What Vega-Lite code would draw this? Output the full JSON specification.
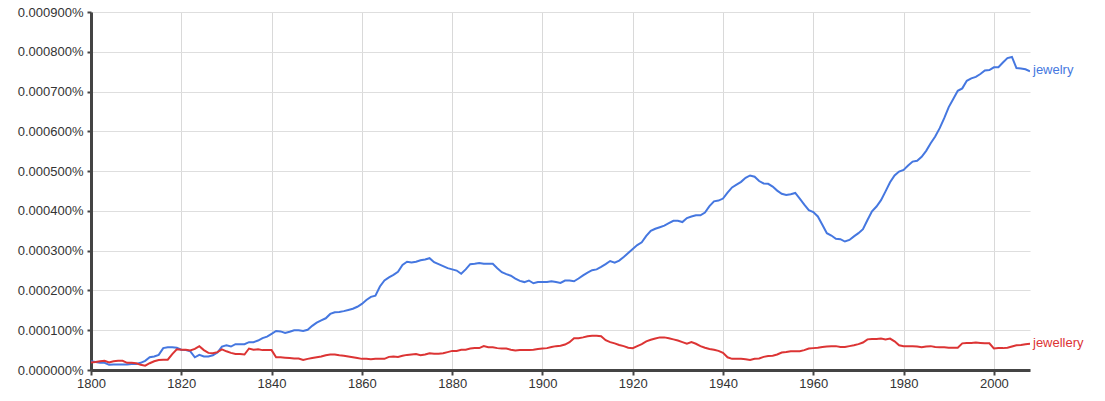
{
  "$schema": "https://vega.github.io/schema/vega-lite/v6.json",
  "width": 939,
  "height": 358,
  "autosize": {"type": "none"},
  "padding": {"left": 91, "top": 12, "right": 75, "bottom": 31},
  "background": "white",
  "config": {
    "view": {"stroke": null},
    "font": "Liberation Sans"
  },
  "data": {
    "values": [
      {"year":1800,"jewelry":0.000022,"jewellery":0.000019},
      {"year":1801,"jewelry":0.000020,"jewellery":0.000020},
      {"year":1802,"jewelry":0.000018,"jewellery":0.000022},
      {"year":1803,"jewelry":0.000018,"jewellery":0.000023},
      {"year":1804,"jewelry":0.000013,"jewellery":0.000019},
      {"year":1805,"jewelry":0.000014,"jewellery":0.000022},
      {"year":1806,"jewelry":0.000014,"jewellery":0.000023},
      {"year":1807,"jewelry":0.000014,"jewellery":0.000023},
      {"year":1808,"jewelry":0.000014,"jewellery":0.000018},
      {"year":1809,"jewelry":0.000015,"jewellery":0.000018},
      {"year":1810,"jewelry":0.000015,"jewellery":0.000017},
      {"year":1811,"jewelry":0.000018,"jewellery":0.000013},
      {"year":1812,"jewelry":0.000023,"jewellery":0.000011},
      {"year":1813,"jewelry":0.000032,"jewellery":0.000017},
      {"year":1814,"jewelry":0.000034,"jewellery":0.000022},
      {"year":1815,"jewelry":0.000038,"jewellery":0.000025},
      {"year":1816,"jewelry":0.000055,"jewellery":0.000026},
      {"year":1817,"jewelry":0.000057,"jewellery":0.000026},
      {"year":1818,"jewelry":0.000057,"jewellery":0.000040},
      {"year":1819,"jewelry":0.000056,"jewellery":0.000052},
      {"year":1820,"jewelry":0.000051,"jewellery":0.000051},
      {"year":1821,"jewelry":0.000050,"jewellery":0.000051},
      {"year":1822,"jewelry":0.000047,"jewellery":0.000049},
      {"year":1823,"jewelry":0.000032,"jewellery":0.000053},
      {"year":1824,"jewelry":0.000038,"jewellery":0.000060},
      {"year":1825,"jewelry":0.000034,"jewellery":0.000050},
      {"year":1826,"jewelry":0.000034,"jewellery":0.000043},
      {"year":1827,"jewelry":0.000037,"jewellery":0.000042},
      {"year":1828,"jewelry":0.000044,"jewellery":0.000045},
      {"year":1829,"jewelry":0.000059,"jewellery":0.000052},
      {"year":1830,"jewelry":0.000062,"jewellery":0.000047},
      {"year":1831,"jewelry":0.000059,"jewellery":0.000043},
      {"year":1832,"jewelry":0.000065,"jewellery":0.000040},
      {"year":1833,"jewelry":0.000065,"jewellery":0.000040},
      {"year":1834,"jewelry":0.000065,"jewellery":0.000039},
      {"year":1835,"jewelry":0.000070,"jewellery":0.000054},
      {"year":1836,"jewelry":0.000070,"jewellery":0.000051},
      {"year":1837,"jewelry":0.000074,"jewellery":0.000052},
      {"year":1838,"jewelry":0.000080,"jewellery":0.000050},
      {"year":1839,"jewelry":0.000084,"jewellery":0.000050},
      {"year":1840,"jewelry":0.000091,"jewellery":0.000050},
      {"year":1841,"jewelry":0.000098,"jewellery":0.000032},
      {"year":1842,"jewelry":0.000097,"jewellery":0.000032},
      {"year":1843,"jewelry":0.000093,"jewellery":0.000031},
      {"year":1844,"jewelry":0.000096,"jewellery":0.000030},
      {"year":1845,"jewelry":0.000100,"jewellery":0.000029},
      {"year":1846,"jewelry":0.000100,"jewellery":0.000029},
      {"year":1847,"jewelry":0.000098,"jewellery":0.000025},
      {"year":1848,"jewelry":0.000101,"jewellery":0.000028},
      {"year":1849,"jewelry":0.000111,"jewellery":0.000030},
      {"year":1850,"jewelry":0.000119,"jewellery":0.000032},
      {"year":1851,"jewelry":0.000125,"jewellery":0.000034},
      {"year":1852,"jewelry":0.000130,"jewellery":0.000037},
      {"year":1853,"jewelry":0.000141,"jewellery":0.000039},
      {"year":1854,"jewelry":0.000145,"jewellery":0.000039},
      {"year":1855,"jewelry":0.000146,"jewellery":0.000037},
      {"year":1856,"jewelry":0.000148,"jewellery":0.000036},
      {"year":1857,"jewelry":0.000151,"jewellery":0.000034},
      {"year":1858,"jewelry":0.000154,"jewellery":0.000032},
      {"year":1859,"jewelry":0.000159,"jewellery":0.000030},
      {"year":1860,"jewelry":0.000166,"jewellery":0.000028},
      {"year":1861,"jewelry":0.000176,"jewellery":0.000028},
      {"year":1862,"jewelry":0.000184,"jewellery":0.000027},
      {"year":1863,"jewelry":0.000187,"jewellery":0.000028},
      {"year":1864,"jewelry":0.000210,"jewellery":0.000028},
      {"year":1865,"jewelry":0.000225,"jewellery":0.000028},
      {"year":1866,"jewelry":0.000233,"jewellery":0.000033},
      {"year":1867,"jewelry":0.000239,"jewellery":0.000034},
      {"year":1868,"jewelry":0.000247,"jewellery":0.000033},
      {"year":1869,"jewelry":0.000264,"jewellery":0.000036},
      {"year":1870,"jewelry":0.000272,"jewellery":0.000038},
      {"year":1871,"jewelry":0.000270,"jewellery":0.000039},
      {"year":1872,"jewelry":0.000272,"jewellery":0.000040},
      {"year":1873,"jewelry":0.000276,"jewellery":0.000037},
      {"year":1874,"jewelry":0.000278,"jewellery":0.000039},
      {"year":1875,"jewelry":0.000281,"jewellery":0.000042},
      {"year":1876,"jewelry":0.000271,"jewellery":0.000041},
      {"year":1877,"jewelry":0.000266,"jewellery":0.000041},
      {"year":1878,"jewelry":0.000261,"jewellery":0.000042},
      {"year":1879,"jewelry":0.000256,"jewellery":0.000045},
      {"year":1880,"jewelry":0.000253,"jewellery":0.000048},
      {"year":1881,"jewelry":0.000250,"jewellery":0.000048},
      {"year":1882,"jewelry":0.000242,"jewellery":0.000051},
      {"year":1883,"jewelry":0.000253,"jewellery":0.000051},
      {"year":1884,"jewelry":0.000266,"jewellery":0.000054},
      {"year":1885,"jewelry":0.000267,"jewellery":0.000055},
      {"year":1886,"jewelry":0.000269,"jewellery":0.000055},
      {"year":1887,"jewelry":0.000267,"jewellery":0.000060},
      {"year":1888,"jewelry":0.000267,"jewellery":0.000057},
      {"year":1889,"jewelry":0.000267,"jewellery":0.000057},
      {"year":1890,"jewelry":0.000256,"jewellery":0.000055},
      {"year":1891,"jewelry":0.000246,"jewellery":0.000054},
      {"year":1892,"jewelry":0.000241,"jewellery":0.000054},
      {"year":1893,"jewelry":0.000237,"jewellery":0.000051},
      {"year":1894,"jewelry":0.000230,"jewellery":0.000049},
      {"year":1895,"jewelry":0.000224,"jewellery":0.000050},
      {"year":1896,"jewelry":0.000221,"jewellery":0.000050},
      {"year":1897,"jewelry":0.000225,"jewellery":0.000050},
      {"year":1898,"jewelry":0.000218,"jewellery":0.000051},
      {"year":1899,"jewelry":0.000221,"jewellery":0.000053},
      {"year":1900,"jewelry":0.000221,"jewellery":0.000054},
      {"year":1901,"jewelry":0.000221,"jewellery":0.000055},
      {"year":1902,"jewelry":0.000223,"jewellery":0.000058},
      {"year":1903,"jewelry":0.000221,"jewellery":0.000060},
      {"year":1904,"jewelry":0.000219,"jewellery":0.000061},
      {"year":1905,"jewelry":0.000225,"jewellery":0.000064},
      {"year":1906,"jewelry":0.000225,"jewellery":0.000070},
      {"year":1907,"jewelry":0.000223,"jewellery":0.000080},
      {"year":1908,"jewelry":0.000230,"jewellery":0.000080},
      {"year":1909,"jewelry":0.000238,"jewellery":0.000082},
      {"year":1910,"jewelry":0.000245,"jewellery":0.000085},
      {"year":1911,"jewelry":0.000251,"jewellery":0.000086},
      {"year":1912,"jewelry":0.000253,"jewellery":0.000086},
      {"year":1913,"jewelry":0.000259,"jewellery":0.000085},
      {"year":1914,"jewelry":0.000266,"jewellery":0.000075},
      {"year":1915,"jewelry":0.000274,"jewellery":0.000070},
      {"year":1916,"jewelry":0.000270,"jewellery":0.000067},
      {"year":1917,"jewelry":0.000275,"jewellery":0.000063},
      {"year":1918,"jewelry":0.000284,"jewellery":0.000060},
      {"year":1919,"jewelry":0.000294,"jewellery":0.000056},
      {"year":1920,"jewelry":0.000304,"jewellery":0.000055},
      {"year":1921,"jewelry":0.000314,"jewellery":0.000060},
      {"year":1922,"jewelry":0.000321,"jewellery":0.000065},
      {"year":1923,"jewelry":0.000337,"jewellery":0.000072},
      {"year":1924,"jewelry":0.000350,"jewellery":0.000076},
      {"year":1925,"jewelry":0.000355,"jewellery":0.000079},
      {"year":1926,"jewelry":0.000359,"jewellery":0.000082},
      {"year":1927,"jewelry":0.000363,"jewellery":0.000082},
      {"year":1928,"jewelry":0.000369,"jewellery":0.000080},
      {"year":1929,"jewelry":0.000375,"jewellery":0.000077},
      {"year":1930,"jewelry":0.000375,"jewellery":0.000074},
      {"year":1931,"jewelry":0.000372,"jewellery":0.000070},
      {"year":1932,"jewelry":0.000382,"jewellery":0.000066},
      {"year":1933,"jewelry":0.000386,"jewellery":0.000070},
      {"year":1934,"jewelry":0.000389,"jewellery":0.000066},
      {"year":1935,"jewelry":0.000389,"jewellery":0.000060},
      {"year":1936,"jewelry":0.000396,"jewellery":0.000056},
      {"year":1937,"jewelry":0.000412,"jewellery":0.000053},
      {"year":1938,"jewelry":0.000424,"jewellery":0.000051},
      {"year":1939,"jewelry":0.000426,"jewellery":0.000048},
      {"year":1940,"jewelry":0.000431,"jewellery":0.000043},
      {"year":1941,"jewelry":0.000446,"jewellery":0.000032},
      {"year":1942,"jewelry":0.000459,"jewellery":0.000028},
      {"year":1943,"jewelry":0.000466,"jewellery":0.000028},
      {"year":1944,"jewelry":0.000473,"jewellery":0.000028},
      {"year":1945,"jewelry":0.000483,"jewellery":0.000027},
      {"year":1946,"jewelry":0.000489,"jewellery":0.000025},
      {"year":1947,"jewelry":0.000486,"jewellery":0.000028},
      {"year":1948,"jewelry":0.000475,"jewellery":0.000029},
      {"year":1949,"jewelry":0.000469,"jewellery":0.000033},
      {"year":1950,"jewelry":0.000468,"jewellery":0.000035},
      {"year":1951,"jewelry":0.000461,"jewellery":0.000036},
      {"year":1952,"jewelry":0.000451,"jewellery":0.000039},
      {"year":1953,"jewelry":0.000443,"jewellery":0.000044},
      {"year":1954,"jewelry":0.000440,"jewellery":0.000045},
      {"year":1955,"jewelry":0.000442,"jewellery":0.000047},
      {"year":1956,"jewelry":0.000445,"jewellery":0.000047},
      {"year":1957,"jewelry":0.000431,"jewellery":0.000047},
      {"year":1958,"jewelry":0.000416,"jewellery":0.000050},
      {"year":1959,"jewelry":0.000402,"jewellery":0.000054},
      {"year":1960,"jewelry":0.000397,"jewellery":0.000055},
      {"year":1961,"jewelry":0.000386,"jewellery":0.000056},
      {"year":1962,"jewelry":0.000365,"jewellery":0.000058},
      {"year":1963,"jewelry":0.000344,"jewellery":0.000059},
      {"year":1964,"jewelry":0.000338,"jewellery":0.000060},
      {"year":1965,"jewelry":0.000330,"jewellery":0.000060},
      {"year":1966,"jewelry":0.000329,"jewellery":0.000058},
      {"year":1967,"jewelry":0.000323,"jewellery":0.000058},
      {"year":1968,"jewelry":0.000327,"jewellery":0.000060},
      {"year":1969,"jewelry":0.000336,"jewellery":0.000062},
      {"year":1970,"jewelry":0.000344,"jewellery":0.000065},
      {"year":1971,"jewelry":0.000354,"jewellery":0.000069},
      {"year":1972,"jewelry":0.000377,"jewellery":0.000077},
      {"year":1973,"jewelry":0.000399,"jewellery":0.000078},
      {"year":1974,"jewelry":0.000411,"jewellery":0.000078},
      {"year":1975,"jewelry":0.000427,"jewellery":0.000079},
      {"year":1976,"jewelry":0.000449,"jewellery":0.000077},
      {"year":1977,"jewelry":0.000472,"jewellery":0.000079},
      {"year":1978,"jewelry":0.000489,"jewellery":0.000072},
      {"year":1979,"jewelry":0.000499,"jewellery":0.000062},
      {"year":1980,"jewelry":0.000503,"jewellery":0.000060},
      {"year":1981,"jewelry":0.000514,"jewellery":0.000060},
      {"year":1982,"jewelry":0.000524,"jewellery":0.000060},
      {"year":1983,"jewelry":0.000526,"jewellery":0.000059},
      {"year":1984,"jewelry":0.000536,"jewellery":0.000057},
      {"year":1985,"jewelry":0.000551,"jewellery":0.000059},
      {"year":1986,"jewelry":0.000570,"jewellery":0.000060},
      {"year":1987,"jewelry":0.000587,"jewellery":0.000058},
      {"year":1988,"jewelry":0.000608,"jewellery":0.000057},
      {"year":1989,"jewelry":0.000633,"jewellery":0.000057},
      {"year":1990,"jewelry":0.000661,"jewellery":0.000056},
      {"year":1991,"jewelry":0.000681,"jewellery":0.000056},
      {"year":1992,"jewelry":0.000702,"jewellery":0.000056},
      {"year":1993,"jewelry":0.000708,"jewellery":0.000067},
      {"year":1994,"jewelry":0.000727,"jewellery":0.000068},
      {"year":1995,"jewelry":0.000733,"jewellery":0.000068},
      {"year":1996,"jewelry":0.000737,"jewellery":0.000069},
      {"year":1997,"jewelry":0.000744,"jewellery":0.000068},
      {"year":1998,"jewelry":0.000753,"jewellery":0.000067},
      {"year":1999,"jewelry":0.000754,"jewellery":0.000067},
      {"year":2000,"jewelry":0.000761,"jewellery":0.000054},
      {"year":2001,"jewelry":0.000761,"jewellery":0.000055},
      {"year":2002,"jewelry":0.000773,"jewellery":0.000055},
      {"year":2003,"jewelry":0.000784,"jewellery":0.000056},
      {"year":2004,"jewelry":0.000787,"jewellery":0.000059},
      {"year":2005,"jewelry":0.000759,"jewellery":0.000062},
      {"year":2006,"jewelry":0.000758,"jewellery":0.000063},
      {"year":2007,"jewelry":0.000756,"jewellery":0.000065},
      {"year":2008,"jewelry":0.000751,"jewellery":0.000066}
    ]
  },
  "transform": [
    {"fold": ["jewelry", "jewellery"], "as": ["ngram", "pct"]}
  ],
  "encoding": {
    "x": {
      "field": "year",
      "type": "quantitative",
      "scale": {"domain": [1800, 2008], "nice": false, "zero": false},
      "axis": {
        "title": null,
        "values": [1800, 1820, 1840, 1860, 1880, 1900, 1920, 1940, 1960, 1980, 2000],
        "format": "d",
        "grid": true,
        "gridColor": "#d9d9d9",
        "gridWidth": 1,
        "domainColor": "#444444",
        "domainWidth": 3,
        "tickColor": "#444444",
        "tickWidth": 2,
        "tickSize": 5,
        "labelFontSize": 13,
        "labelColor": "#333333",
        "labelPadding": 2,
        "labelFlush": false
      }
    },
    "y": {
      "field": "pct",
      "type": "quantitative",
      "scale": {"domain": [0, 0.0009], "nice": false},
      "axis": {
        "title": null,
        "values": [0, 0.0001, 0.0002, 0.0003, 0.0004, 0.0005, 0.0006, 0.0007, 0.0008, 0.0009],
        "labelExpr": "format(datum.value, '.6f') + '%'",
        "grid": true,
        "gridColor": "#dedede",
        "gridWidth": 1.2,
        "domainColor": "#444444",
        "domainWidth": 3,
        "tickColor": "#444444",
        "tickWidth": 2,
        "tickSize": 4,
        "labelFontSize": 13,
        "labelColor": "#333333",
        "labelPadding": 4
      }
    },
    "color": {
      "field": "ngram",
      "type": "nominal",
      "scale": {"domain": ["jewelry", "jewellery"], "range": ["#4577e0", "#dc3434"]},
      "legend": null
    }
  },
  "layer": [
    {
      "mark": {"type": "line", "strokeWidth": 2, "clip": true}
    },
    {
      "transform": [{"filter": "datum.year == 2008"}],
      "mark": {"type": "text", "align": "left", "baseline": "middle", "dx": 3, "dy": -1, "fontSize": 13},
      "encoding": {
        "text": {"field": "ngram", "type": "nominal"}
      }
    }
  ]
}
